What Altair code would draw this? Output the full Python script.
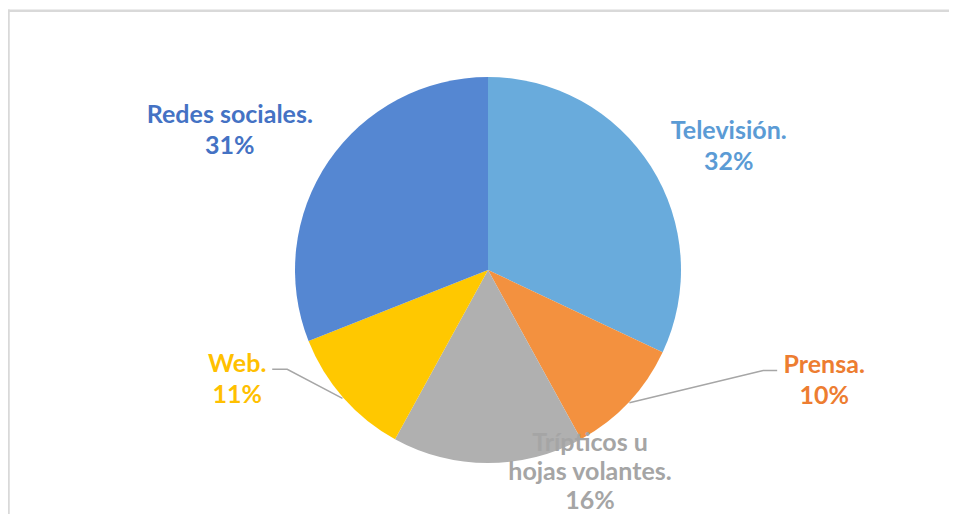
import math
import altair as alt
import pandas as pd

# ---- data ----
categories = ["Televisión.", "Prensa.", "Trípticos u hojas volantes.", "Web.", "Redes sociales."]
label_lines = ["Televisión.", "Prensa.", "Trípticos u\nhojas volantes.", "Web.", "Redes sociales."]
values = [32, 10, 16, 11, 31]
pct_labels = ["32%", "10%", "16%", "11%", "31%"]

slice_colors = ["#69abdc", "#f3913f", "#b0b0b0", "#ffc800", "#5587d2"]
label_colors = ["#5b9bd5", "#ed7d31", "#a5a5a5", "#ffc000", "#4472c4"]

# ---- layout constants ----
W, H = 941, 506
CX, CY = 480, 262
R = 193
LABEL_R = 265
FONT = "Lato"
FS = 25
LH = 31
# per-label adjustments (pixels) from the default label ring position (block centre)
label_adj = [(17, 18), (143, -71), (102, -63), (-52, -66), (-39, 9)]
label_lh = [LH, LH, 29, LH, LH]

df = pd.DataFrame({
    "cat": categories,
    "val": values,
    "idx": list(range(len(values))),
    "label": [f"{a}\n{b}" for a, b in zip(label_lines, pct_labels)],
})
n_lines = [lab.count("\n") + 1 for lab in df["label"]]

color_scale = alt.Scale(domain=categories, range=slice_colors)

base = alt.Chart(df)

pie = base.mark_arc(outerRadius=R, stroke=None).encode(
    theta=alt.Theta("val:Q", stack=True),
    color=alt.Color("cat:N", scale=color_scale, legend=None),
    order=alt.Order("idx:Q"),
    x=alt.value(CX),
    y=alt.value(CY),
)

layers = []
one = base.transform_filter("datum.idx == 0")
frame_top = one.mark_rule(stroke="#d9d9d9", strokeWidth=2.5).encode(
    x=alt.value(0), x2=alt.value(W), y=alt.value(2.7)
)
frame_left = one.mark_rule(stroke="#d9d9d9", strokeWidth=2.5).encode(
    x=alt.value(0.5), y=alt.value(1.5), y2=alt.value(H)
)
layers += [frame_top, frame_left, pie]

total = sum(values)
cum = 0
mids = []
for v in values:
    mids.append((cum + v / 2) / total * 2 * math.pi)
    cum += v

def label_pos(i):
    a = mids[i]
    x = CX + LABEL_R * math.sin(a) + label_adj[i][0]
    y = CY - LABEL_R * math.cos(a) + label_adj[i][1]
    return x, y

rows = []
for i, side in [(1, 1), (3, -1)]:
    a = mids[i]
    sx = CX + (R + 1) * math.sin(a)
    sy = CY - (R + 1) * math.cos(a)
    lx, ly = label_pos(i)
    if side == 1:
        ex, ey = lx - 47, ly - 10
        elx = ex - 14
    else:
        ex, ey = lx + 35, ly - 10
        elx = ex + 15
    rows += [
        {"cat": categories[i], "seq": 0, "px": sx, "py": sy},
        {"cat": categories[i], "seq": 1, "px": elx, "py": ey},
        {"cat": categories[i], "seq": 2, "px": ex, "py": ey},
    ]
lead_df = pd.DataFrame(rows)
leaders = alt.Chart(lead_df).mark_line(color="#a6a6a6", strokeWidth=1.5).encode(
    x=alt.X("px:Q", scale=None, axis=None),
    y=alt.Y("py:Q", scale=None, axis=None),
    detail="cat:N",
    order="seq:Q",
)
layers.append(leaders)

for i, cat in enumerate(categories):
    t = base.mark_text(
        radius=LABEL_R,
        dx=label_adj[i][0],
        dy=label_adj[i][1] - (n_lines[i] - 1) * label_lh[i] / 2,
        font=FONT,
        fontSize=FS,
        fontWeight="bold",
        lineBreak="\n",
        lineHeight=label_lh[i],
        align="center",
        baseline="middle",
        color=label_colors[i],
    ).encode(
        theta=alt.Theta("val:Q", stack=True),
        order=alt.Order("idx:Q"),
        text=alt.condition(f"datum.idx == {i}", "label:N", alt.value("")),
        x=alt.value(CX),
        y=alt.value(CY),
    )
    layers.append(t)

chart = alt.layer(*layers).properties(
    width=W, height=H, padding=0, autosize="none"
).configure_view(strokeWidth=0, stroke="transparent")

chart.save("out.html", embed_options={"renderer": "svg", "actions": False})
